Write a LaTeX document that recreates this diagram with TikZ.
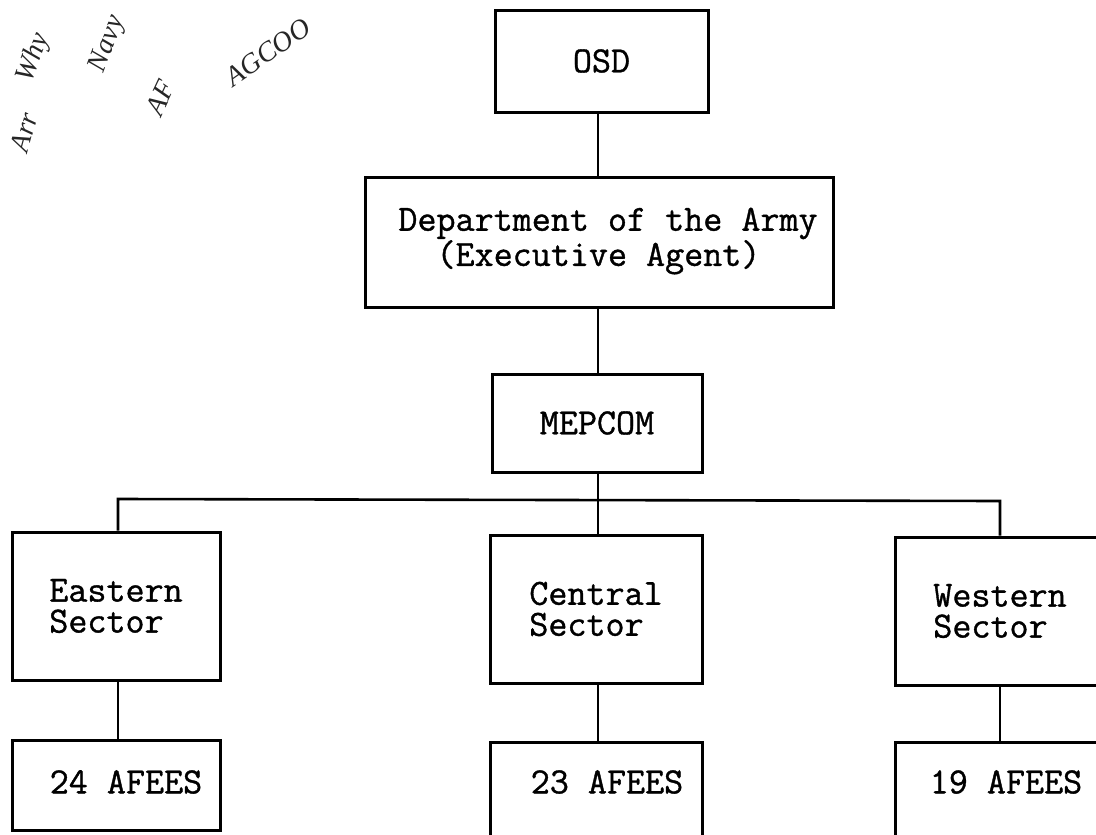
\documentclass[tikz,border=0pt]{standalone}
\usepackage{fontspec}
\setmainfont{Liberation Serif}
\newfontfamily\typew[FakeBold=1]{Latin Modern Mono}
\begin{document}
\begin{tikzpicture}[x=1pt,y=-1pt,
  box/.style={draw, line width=3pt, font=\typew\fontsize{37}{31}\selectfont,
    inner sep=0pt, align=left},
  boxtext/.style={font=\typew\fontsize{37}{31}\selectfont, inner sep=0pt, align=left},
  link/.style={line width=2.6pt},
  scrawl/.style={font=\itshape\fontsize{28}{28}\selectfont, text=black!85}]
\useasboundingbox (0,0) rectangle (1096,835);
\clip (0,0) rectangle (1096,835);
% boxes
\node[box, minimum width=213pt, minimum height=102pt] (osd) at (601.5,61) {OSD};
\node[box, minimum width=468pt, minimum height=130pt] (dept) at (599,242) {};
\node[boxtext] (depttext) at (608,241) {Department of the Army\\\ \ (Executive Agent)};
\node[box, minimum width=210pt, minimum height=98pt] (mep) at (597,423) {MEPCOM};
\node[box, minimum width=208pt, minimum height=148pt] (east) at (116,606) {Eastern\\Sector};
\node[box, minimum width=212pt, minimum height=148pt] (cent) at (596,609) {Central\\Sector};
\node[box, minimum width=210pt, minimum height=148pt] (west) at (1000,611) {Western\\Sector};
\node[box, minimum width=208pt, minimum height=90pt] (eafees) at (116,785) {};
\node[boxtext] (eafeestext) at (126,782) {24 AFEES};
\node[box, minimum width=212pt, minimum height=104pt] (cafees) at (596,794) {};
\node[boxtext] (cafeestext) at (607,782) {23 AFEES};
\node[box, minimum width=210pt, minimum height=104pt] (wafees) at (1000,794) {};
\node[boxtext] (wafeestext) at (1006,782) {19 AFEES};
% bus coordinates
\coordinate (bl) at (118,499);
\coordinate (bm) at (598,500);
\coordinate (br) at (1000,501);
% connectors
\draw[link] (osd.south -| bm) -- (bm |- dept.north);
\draw[link] (dept.south -| bm) -- (bm |- mep.north);
\draw[link] (mep.south -| bm) -- (bm);
\draw[link] (bl |- east.north) -- (bl) -- (br) -- (br |- west.north);
\draw[link] (bm) -- (bm |- cent.north);
\draw[link] (east.south -| bl) -- (bl |- eafees.north);
\draw[link] (cent.south -| bm) -- (bm |- cafees.north);
\draw[link] (west.south -| br) -- (br |- wafees.north);
% handwritten annotations
\node[scrawl, rotate=70] (hw1) at (34,58) {Why};
\node[scrawl, rotate=75] (hw2) at (24,132) {Arr};
\node[scrawl, rotate=70] (hw3) at (108,44) {Navy};
\node[scrawl, rotate=65] (hw4) at (160,98) {AF};
\node[scrawl, rotate=35] (hw5) at (268,52) {AGCOO};
\end{tikzpicture}
\end{document}
